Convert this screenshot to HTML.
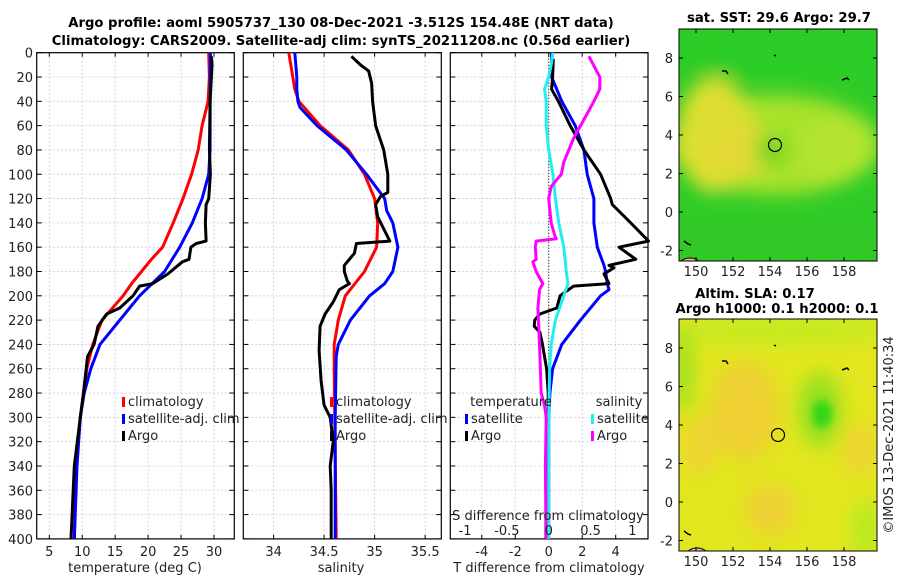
<!DOCTYPE html>
<html><head><meta charset="utf-8">
<style>
html,body{margin:0;padding:0;background:#fff;}
svg{display:block;font-family:"DejaVu Sans","Liberation Sans",sans-serif;}
</style></head>
<body>
<svg id="chart" width="900" height="580" viewBox="0 0 900 580" xmlns="http://www.w3.org/2000/svg">
<defs>
<filter id="blur8" x="-50%" y="-50%" width="200%" height="200%"><feGaussianBlur stdDeviation="9"/></filter>
<filter id="blur4" x="-50%" y="-50%" width="200%" height="200%"><feGaussianBlur stdDeviation="4"/></filter>
<clipPath id="clipMap1"><rect x="679" y="29" width="198" height="232"/></clipPath>
<clipPath id="clipMap2"><rect x="679" y="319" width="198" height="232"/></clipPath>
</defs>
<g font-weight="bold" font-size="13.2" text-anchor="middle" fill="#000">
<text x="341" y="27">Argo profile: aoml 5905737_130 08-Dec-2021 -3.512S 154.48E (NRT data)</text>
<text x="341" y="45">Climatology: CARS2009. Satellite-adj clim: synTS_20211208.nc (0.56d earlier)</text>
</g>

<!-- upper map -->
<g clip-path="url(#clipMap1)">
<rect x="679" y="29" width="198" height="232" fill="#2fcc28"/>
<g filter="url(#blur8)">
<ellipse cx="775" cy="145" rx="105" ry="50" fill="#a8e22a"/>
<ellipse cx="715" cy="135" rx="38" ry="58" fill="#dede30"/>
<ellipse cx="745" cy="150" rx="30" ry="25" fill="#e4d836"/>
<ellipse cx="835" cy="150" rx="38" ry="32" fill="#b4e430"/>
<ellipse cx="772" cy="150" rx="18" ry="16" fill="#78d828"/>
<ellipse cx="780" cy="55" rx="110" ry="22" fill="#2ccc26"/>
<ellipse cx="780" cy="240" rx="110" ry="24" fill="#30c828"/>
</g>
<ellipse cx="690" cy="264" rx="10" ry="6" fill="#f0b898" stroke="#000"/>
<circle cx="775" cy="145" r="6.5" fill="none" stroke="#000" stroke-width="1.2"/>
<path d="M722 71 l4 0 l2 3 M842 80 l5 -2 l2 2 M684 241 l4 3 l3 1 M774 55 l2 1" stroke="#000" stroke-width="1.5" fill="none"/>
</g>
<g font-size="13" fill="#222">
<rect x="679" y="29" width="198" height="232" fill="none" stroke="#000" stroke-width="1"/>
<text x="779" y="22" text-anchor="middle" font-weight="bold" font-size="13.2" fill="#000">sat. SST: 29.6 Argo: 29.7</text>
</g>

<!-- lower map -->
<g clip-path="url(#clipMap2)">
<rect x="679" y="319" width="198" height="232" fill="#e2e61e"/>
<g filter="url(#blur8)">
<ellipse cx="780" cy="330" rx="110" ry="14" fill="#c4ea22"/>
<ellipse cx="684" cy="370" rx="8" ry="45" fill="#90e020"/>
<ellipse cx="745" cy="410" rx="35" ry="50" fill="#eed030"/>
<ellipse cx="700" cy="445" rx="18" ry="30" fill="#eed432"/>
<ellipse cx="770" cy="510" rx="25" ry="25" fill="#eed034"/>
<ellipse cx="860" cy="450" rx="18" ry="25" fill="#eed432"/>
<ellipse cx="820" cy="410" rx="22" ry="38" fill="#98e020"/>
<ellipse cx="866" cy="530" rx="14" ry="30" fill="#b8ea22"/>
</g>
<g filter="url(#blur4)"><ellipse cx="822" cy="414" rx="10" ry="14" fill="#30d812"/></g>
<ellipse cx="697" cy="554" rx="10" ry="6" fill="#f0b898" stroke="#000"/>
<circle cx="778" cy="435" r="6.5" fill="none" stroke="#000" stroke-width="1.2"/>
<path d="M722 361 l4 0 l2 3 M842 370 l5 -2 l2 2 M684 531 l4 3 l3 1 M774 345 l2 1" stroke="#000" stroke-width="1.5" fill="none"/>
</g>
<g font-size="13" fill="#222">
<rect x="679" y="319" width="198" height="232" fill="none" stroke="#000" stroke-width="1"/>
<text x="755" y="298" text-anchor="middle" font-weight="bold" font-size="13.2" fill="#000">Altim. SLA: 0.17</text>
<text x="777" y="313" text-anchor="middle" font-weight="bold" font-size="13.2" fill="#000">Argo h1000: 0.1 h2000: 0.1</text>
</g>
<text transform="translate(893,435) rotate(-90)" text-anchor="middle" font-size="13" fill="#222">©IMOS 13-Dec-2021 11:40:34</text>
<g id="plots"></g>
</svg>
<script>
// ---- data ----
const depthTicks=[0,20,40,60,80,100,120,140,160,180,200,220,240,260,280,300,320,340,360,380,400];
const tempTicks=[5,10,15,20,25,30];
const salTicks=[34,34.5,35,35.5];
const salTickLabels=["34","34.5","35","35.5"];
const tdiffTicks=[-4,-2,0,2,4];
const sdiffTicks=[-1,-0.5,0,0.5,1];
const sdiffTickLabels=["-1","-0.5","0","0.5","1"];
const lonTicks=[150,152,154,156,158];
const latTicks=[-2,0,2,4,6,8];

const tClimDepth=[0,20,40,60,80,100,120,140,160,170,180,190,200,220,240,260,280,300,340,400];
const tClim=[29.2,29.3,29.1,28.2,27.6,26.6,25.3,23.8,22.2,20.5,19.0,17.5,16.2,13.0,11.6,10.7,10.2,9.7,9.1,8.8];
const tSatDepth=[0,40,80,100,120,140,160,180,200,220,240,260,280,300,340,400];
const tSat=[29.45,29.4,29.4,29.2,28.2,26.7,24.8,22.5,18.7,15.7,12.7,11.3,10.3,9.7,9.2,8.8];
const tArgoDepth=[3,10,40,80,100,120,125,140,155,157,160,170,172,182,190,192,200,210,215,225,240,250,280,300,340,400];
const tArgo=[29.6,29.7,29.4,29.3,29.45,29.2,28.8,28.7,28.8,27.3,26.5,26.2,25.2,23.0,20.7,18.7,17.7,15.7,13.7,12.4,11.8,10.8,10.2,9.7,8.8,8.3];

const sClimDepth=[0,20,30,40,60,80,100,120,140,160,180,200,220,240,260,400];
const sClim=[34.15,34.19,34.21,34.25,34.46,34.74,34.90,35.0,35.03,35.02,34.90,34.71,34.64,34.60,34.60,34.62];
const sSatDepth=[0,20,30,40,45,60,80,100,120,130,140,160,180,190,200,220,240,250,300,400];
const sSat=[34.21,34.23,34.23,34.24,34.26,34.43,34.72,34.92,35.10,35.12,35.18,35.23,35.18,35.10,34.95,34.76,34.64,34.62,34.61,34.61];
const sArgoDepth=[3,10,15,25,40,60,80,100,115,118,125,135,155,157,165,175,180,188,190,195,205,215,225,245,270,290,300,320,340,360,400];
const sArgo=[34.77,34.86,34.94,34.97,34.98,35.01,35.09,35.13,35.13,35.06,35.01,35.03,35.15,34.82,34.80,34.70,34.70,34.73,34.75,34.65,34.59,34.51,34.46,34.45,34.47,34.50,34.56,34.59,34.56,34.57,34.57];

const dTSatDepth=[0,20,40,60,80,100,120,140,160,175,180,190,195,200,220,240,260,280,300,400];
const dTSat=[0.17,0.17,0.78,1.58,2.1,2.3,2.7,2.7,2.9,3.3,3.4,3.5,3.6,3.1,1.9,0.78,0.23,0.07,0,0];
const dTArgoDepth=[5,20,30,40,60,80,100,120,125,140,155,160,170,175,177,182,190,192,200,210,215,220,225,230,240,260,280,300,320,340,400];
const dTArgo=[0.27,0.23,0.17,0.58,1.28,2.1,3.1,3.7,3.8,4.9,5.96,4.2,5.2,3.6,3.9,3.3,3.6,1.48,0.68,0.48,-0.53,-0.83,-0.87,-0.53,-0.37,-0.13,-0.03,-0.03,-0.13,-0.17,-0.17];
const dSSatDepth=[0,10,20,30,40,60,80,100,120,140,160,180,190,200,220,240,260,300,400];
const dSSat=[0.05,0.03,0,-0.05,-0.03,-0.03,0,0.05,0.08,0.12,0.18,0.21,0.23,0.18,0.08,0.03,0.01,0,0];
const dSArgoDepth=[3,20,30,40,55,70,80,90,100,110,120,140,150,153,155,160,170,172,180,185,190,195,210,240,280,290,300,340,400];
const dSArgo=[0.48,0.61,0.61,0.54,0.42,0.30,0.24,0.18,0.15,0.03,0,0.03,0.07,0.09,-0.15,-0.16,-0.15,-0.19,-0.15,-0.11,-0.07,-0.11,-0.13,-0.11,-0.09,-0.05,-0.03,-0.04,-0.03];

// ---- layout ----
const NS="http://www.w3.org/2000/svg";
const root=document.getElementById('plots');
const Y0=52.7,Y1=538.9,DMAX=400;
function yD(d){return Y0+(d/DMAX)*(Y1-Y0);}
const P1={x0:36.7,x1:234.3,vmin:3.09,vmax:33.08};
const P2={x0:243.3,x1:441.3,vmin:33.70,vmax:35.66};
const P3={x0:450.3,x1:648,vmin:-5.88,vmax:5.93};
const P3S={x0:450.3,x1:648,vmin:-5.88/5,vmax:5.93/5};
function xV(p,v){return p.x0+(v-p.vmin)/(p.vmax-p.vmin)*(p.x1-p.x0);}
function mk(tag,attrs,parent){const e=document.createElementNS(NS,tag);for(const k in attrs)e.setAttribute(k,attrs[k]);(parent||root).appendChild(e);return e;}

function panelFrame(p,xt,xlabels,name){
  const g=mk('g',{});
  
  
  xt.forEach(v=>{const x=xV(p,v);
    const l=mk('line',{x1:x,x2:x,y1:Y0,y2:Y1,stroke:'#c4cbe6','stroke-width':0.8,'stroke-dasharray':'2,2'},g);
    
    
    mk('line',{x1:x,x2:x,y1:Y1,y2:Y1-4,stroke:'#000','stroke-width':1},g);
    mk('line',{x1:x,x2:x,y1:Y0,y2:Y0+4,stroke:'#000','stroke-width':1},g);
  });
  depthTicks.forEach(d=>{const y=yD(d);
    const l=mk('line',{x1:p.x0,x2:p.x1,y1:y,y2:y,stroke:'#c4cbe6','stroke-width':0.8,'stroke-dasharray':'2,2'},g);
    
    
    mk('line',{x1:p.x0,x2:p.x0+5,y1:y,y2:y,stroke:'#000','stroke-width':1},g);
    mk('line',{x1:p.x1,x2:p.x1-5,y1:y,y2:y,stroke:'#000','stroke-width':1},g);
  });
  const r=mk('rect',{x:p.x0,y:Y0,width:p.x1-p.x0,height:Y1-Y0,fill:'none',stroke:'#000','stroke-width':1.2},g);
  
  
  if(xlabels){xt.forEach((v,i)=>{
    const t=mk('text',{x:xV(p,v),y:556,'text-anchor':'middle','font-size':13,fill:'#222'},g);
    t.textContent=xlabels[i];
    
    
  });}
}
function series(p,depths,vals,color,name,w){
  const d=depths.map((dd,i)=>(i?'L':'M')+xV(p,vals[i]).toFixed(1)+' '+yD(dd).toFixed(1)).join(' ');
  const e=mk('path',{d:d,fill:'none',stroke:color,'stroke-width':w||3,'stroke-linejoin':'round'});
  
  
}
function txt(x,y,s,name,extra){
  const t=mk('text',Object.assign({x:x,y:y,'font-size':13,fill:'#222'},extra||{}));
  t.textContent=s;
  
  
  return t;
}
function legendEntry(x,y,color,label,name){
  const m=mk('rect',{x:x,y:y-9,width:3,height:10,fill:color});
  
  
  txt(x+6,y,label,name);
}

// panel 1
panelFrame(P1,tempTicks,tempTicks.map(String),'temperature-panel');
depthTicks.forEach(d=>{txt(33,yD(d)+5,String(d),'y-tick-label',{'text-anchor':'end'});});
series(P1,tClimDepth,tClim,'#ff0000','temp-climatology-line');
series(P1,tSatDepth,tSat,'#0000ff','temp-satellite-line');
series(P1,tArgoDepth,tArgo,'#000000','temp-argo-line');
txt(135,572,'temperature (deg C)','x-axis-title-temperature',{'text-anchor':'middle'});
legendEntry(122,406,'#ff0000','climatology','legend-temp-climatology');
legendEntry(122,423,'#0000ff','satellite-adj. clim','legend-temp-satellite');
legendEntry(122,440,'#000000','Argo','legend-temp-argo');

// panel 2
panelFrame(P2,salTicks,salTickLabels,'salinity-panel');
series(P2,sClimDepth,sClim,'#ff0000','sal-climatology-line');
series(P2,sSatDepth,sSat,'#0000ff','sal-satellite-line');
series(P2,sArgoDepth,sArgo,'#000000','sal-argo-line');
txt(341,572,'salinity','x-axis-title-salinity',{'text-anchor':'middle'});
legendEntry(330,406,'#ff0000','climatology','legend-sal-climatology');
legendEntry(330,423,'#0000ff','satellite-adj. clim','legend-sal-satellite');
legendEntry(330,440,'#000000','Argo','legend-sal-argo');

// panel 3
panelFrame(P3,tdiffTicks,tdiffTicks.map(String),'difference-panel');
const zl=mk('line',{x1:xV(P3,0),x2:xV(P3,0),y1:Y0,y2:Y1,stroke:'#000','stroke-width':1,'stroke-dasharray':'1,2'});


series(P3,dTSatDepth,dTSat,'#0000ff','tdiff-satellite-line');
series(P3,dTArgoDepth,dTArgo,'#000000','tdiff-argo-line');
series(P3S,dSSatDepth,dSSat,'#22eeee','sdiff-satellite-line');
series(P3S,dSArgoDepth,dSArgo,'#ff00ff','sdiff-argo-line');
txt(511,406,'temperature','legend-temperature-heading',{'text-anchor':'middle'});
txt(619,406,'salinity','legend-salinity-heading',{'text-anchor':'middle'});
legendEntry(465,423,'#0000ff','satellite','legend-tdiff-satellite');
legendEntry(465,440,'#000000','Argo','legend-tdiff-argo');
legendEntry(591,423,'#22eeee','satellite','legend-sdiff-satellite');
legendEntry(591,440,'#ff00ff','Argo','legend-sdiff-argo');
txt(548,520,'S difference from climatology','s-diff-axis-title',{'text-anchor':'middle'});
sdiffTicks.forEach((v,i)=>{txt(xV(P3S,v),535,sdiffTickLabels[i],'s-diff-tick-label',{'text-anchor':'middle'});});
txt(549,572,'T difference from climatology','t-diff-axis-title',{'text-anchor':'middle'});

// map ticks
function lonX(l){return 696+(l-150)*18.5;}
function mapAxes(top,bottom,yOf,name){
  lonTicks.forEach(l=>{const x=lonX(l);
    mk('line',{x1:x,x2:x,y1:bottom,y2:bottom-4,stroke:'#000'});
    mk('line',{x1:x,x2:x,y1:top,y2:top+4,stroke:'#000'});
    txt(x,bottom+15,String(l),name+'-lon-label',{'text-anchor':'middle'});
  });
  latTicks.forEach(a=>{const y=yOf(a);
    mk('line',{x1:679,x2:683,y1:y,y2:y,stroke:'#000'});
    mk('line',{x1:877,x2:873,y1:y,y2:y,stroke:'#000'});
    txt(673,y+5,String(a),name+'-lat-label',{'text-anchor':'end'});
  });
}
mapAxes(29,261,a=>212-a*19.25,'sst-map');
mapAxes(319,551,a=>502-a*19.25,'sla-map');
</script>
</body></html>
